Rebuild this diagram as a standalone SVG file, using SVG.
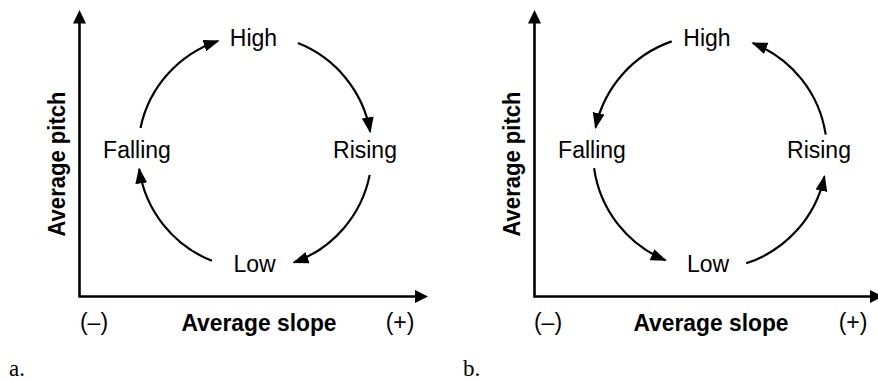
<svg xmlns="http://www.w3.org/2000/svg" width="878" height="382" viewBox="0 0 878 382">
<style>
.lbl{font-family:"Liberation Sans",Arial,sans-serif;font-size:23px;fill:#000;text-anchor:middle}
.ax{font-family:"Liberation Sans",Arial,sans-serif;font-size:23px;font-weight:bold;fill:#000;text-anchor:middle}
.pm{font-family:"Liberation Sans",Arial,sans-serif;font-size:23px;fill:#000;text-anchor:middle}
.cap{font-family:"Liberation Serif","Times New Roman",serif;font-size:23px;fill:#000}
.arc{fill:none;stroke:#000;stroke-width:2.2;marker-end:url(#ah)}
.axis{fill:none;stroke:#000;stroke-width:2.6}
</style>
<defs>
<marker id="ah" markerUnits="userSpaceOnUse" markerWidth="17" markerHeight="13" refX="14.5" refY="6" orient="auto">
<path d="M0,0 L16,6 L0,12 z" fill="#000"/>
</marker>
<g id="axes">
<path class="axis" d="M79.5,22 V296.5 H416"/>
<polygon points="79.5,10 73,23.5 86,23.5" fill="#000"/>
<polygon points="428,296.5 415,290 415,303" fill="#000"/>
</g>
</defs>

<g id="panel-a">
<use href="#axes"/>
<g id="a-ylabel"><text class="ax" transform="translate(65,164) rotate(-90)" textLength="145" lengthAdjust="spacingAndGlyphs">Average pitch</text></g>
<g id="a-xlabel"><text class="ax" x="259" y="331" textLength="155" lengthAdjust="spacingAndGlyphs">Average slope</text></g>
<g id="a-minus"><text class="pm" x="94" y="330">(–)</text></g>
<g id="a-plus"><text class="pm" x="400" y="330">(+)</text></g>
<g id="a-high"><text class="lbl" x="253.5" y="46">High</text></g>
<g id="a-falling"><text class="lbl" x="137" y="158">Falling</text></g>
<g id="a-rising"><text class="lbl" x="365" y="158">Rising</text></g>
<g id="a-low"><text class="lbl" x="254.5" y="272">Low</text></g>
<g id="a-connectors">
<path class="arc" d="M140.5,127.9 A117,117 0 0 1 218.1,41"/>
<path class="arc" d="M297.9,43.1 A117,117 0 0 1 370.2,131.7"/>
<path class="arc" d="M369.7,174.9 A117,117 0 0 1 293.9,262.4"/>
<path class="arc" d="M211.9,260.8 A117,117 0 0 1 139.2,168.9"/>
</g>
<g id="a-caption"><text class="cap" x="9" y="376">a.</text></g>
</g>

<g id="panel-b" transform="translate(455,0)">
<use href="#axes"/>
<g id="b-ylabel"><text class="ax" transform="translate(65,164) rotate(-90)" textLength="145" lengthAdjust="spacingAndGlyphs">Average pitch</text></g>
<g id="b-xlabel"><text class="ax" x="256" y="331" textLength="155" lengthAdjust="spacingAndGlyphs">Average slope</text></g>
<g id="b-minus"><text class="pm" x="93" y="330">(–)</text></g>
<g id="b-plus"><text class="pm" x="398" y="330">(+)</text></g>
<g id="b-high"><text class="lbl" x="252" y="46">High</text></g>
<g id="b-falling"><text class="lbl" x="137" y="158">Falling</text></g>
<g id="b-rising"><text class="lbl" x="364" y="158">Rising</text></g>
<g id="b-low"><text class="lbl" x="253" y="272">Low</text></g>
<g id="b-connectors">
<path class="arc" d="M216.7,41.4 A117,117 0 0 0 140.6,127.5"/>
<path class="arc" d="M139.1,168.1 A117,117 0 0 0 210.4,260.2"/>
<path class="arc" d="M291.2,263.3 A117,117 0 0 0 369.4,176.5"/>
<path class="arc" d="M370.7,134.7 A117,117 0 0 0 297.8,43.1"/>
</g>
<g id="b-caption"><text class="cap" x="8" y="376">b.</text></g>
</g>
</svg>
